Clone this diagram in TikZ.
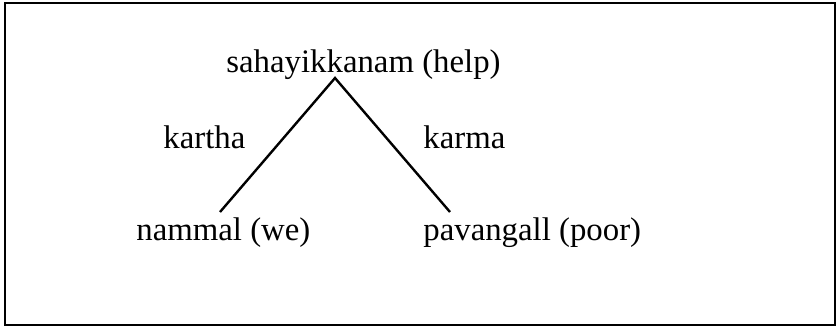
\documentclass[tikz,border=0pt]{standalone}
\usepackage{fontspec}
\setmainfont{Liberation Serif}
\begin{document}
\begin{tikzpicture}[x=0.5pt,y=-0.5pt,
  lbl/.style={inner sep=0pt,anchor=base west,font=\fontsize{16.4}{20}\selectfont},
  edge/.style={line width=1.2pt}]
\useasboundingbox (0,0) rectangle (840,329);
\draw[line width=1.3pt] (5,3) rectangle (835,325);
\node[lbl] (root) at (226,72) {sahayikkanam (help)};
\node[lbl] (kartha) at (163,148) {kartha};
\node[lbl] (karma) at (423,148) {karma};
\node[lbl] (we) at (136,240) {nammal (we)};
\node[lbl] (poor) at (423,240) {pavangall (poor)};
\coordinate (apex) at (335,78);
\coordinate (lend) at (220,212);
\coordinate (rend) at (450,212);
\draw[edge] (lend) -- (apex) -- (rend);
\end{tikzpicture}
\end{document}
